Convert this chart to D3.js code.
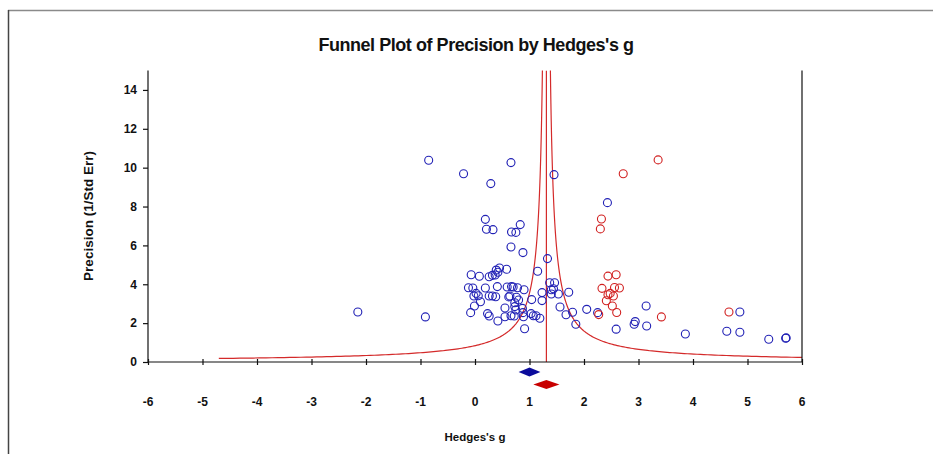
<!DOCTYPE html>
<html>
<head>
<meta charset="utf-8">
<script src="https://cdn.jsdelivr.net/npm/d3@7"></script>
<style>
  body { margin: 0; background: #fff; }
  text { font-family: "Liberation Sans", Arial, sans-serif; font-weight: bold; fill: #111; }
</style>
</head>
<body>
<div class="chart"></div>
<script>
// Observed studies [Hedges's g, precision]
var observedStudies = [
  [-2.15,2.57],[-0.91,2.32],[-0.85,10.38],[-0.21,9.69],[0.29,9.18],[0.66,10.26],[1.45,9.64],[2.43,8.2],
  [0.19,7.34],[0.21,6.83],[0.33,6.81],[0.83,7.07],[0.67,6.69],[0.75,6.67],[0.66,5.92],[0.88,5.63],[1.33,5.32],[1.15,4.67],
  [-0.07,4.49],[0.08,4.41],[0.26,4.39],[0.32,4.46],[0.37,4.48],[0.39,4.73],[0.45,4.84],[0.58,4.77],[0.42,4.62],
  [-0.12,3.82],[-0.04,3.81],[0.02,3.53],[-0.02,3.40],[0.10,3.10],[-0.01,2.88],[0.19,3.81],[0.26,3.40],[0.32,3.40],
  [0.41,3.88],[0.59,3.86],[0.67,3.88],[0.78,3.82],[0.90,3.72],[0.64,3.40],[0.76,3.33],[0.80,3.19],[0.73,3.05],
  [0.73,2.85],[0.87,2.76],[0.55,2.78],[1.04,3.21],[1.23,3.57],[1.23,3.16],
  [-0.08,2.54],[0.23,2.49],[0.26,2.37],[0.42,2.11],[0.55,2.33],[0.66,2.38],[0.72,2.37],[0.88,2.54],[0.89,2.33],
  [1.03,2.49],[1.12,2.38],[1.19,2.25],[0.91,1.71],
  [1.37,4.08],[1.46,4.08],[1.40,3.72],[1.44,3.77],[1.53,3.50],[1.40,3.50],[1.72,3.59],[1.56,2.83],[1.67,2.43],
  [1.79,2.56],[1.85,1.94],[0.62,3.35],[1.07,2.38],[0.38,3.36],[0.06,3.41],[0.75,2.68],[0.70,3.86],
  [2.05,2.71],[2.25,2.54],[2.59,1.69],[3.14,2.88],[2.94,2.08],[2.92,1.94],[3.15,1.85],[3.86,1.44],[4.62,1.58],
  [4.86,2.57],[4.86,1.53],[5.39,1.17],[5.70,1.22],[5.71,1.24]
];

// Imputed studies (trim and fill)
var imputedStudies = [
  [3.36,10.4],[2.72,9.69],[2.32,7.36],[2.30,6.85],[2.44,4.42],[2.59,4.49],[2.33,3.79],[2.56,3.83],[2.65,3.81],
  [2.48,3.53],[2.54,3.40],[2.44,3.46],[2.41,3.15],[2.52,2.88],[2.60,2.55],[2.27,2.44],[3.42,2.32],[4.66,2.57]
];

// Combined effects: [point estimate, half width]
var observedEffect = [1.00, 0.20];
var adjustedEffect = [1.31, 0.24];

// Funnel settings
var funnelCenter = 1.31;
var funnelWidth = 1.1;
var funnelMinPrecision = 0.183;

var xTicks = [-6, -5, -4, -3, -2, -1, 0, 1, 2, 3, 4, 5, 6];
var yTicks = [0, 2, 4, 6, 8, 10, 12, 14];

var width = 933;
var height = 454;

var svg = d3.select(".chart")
  .append("svg")
  .attr("width", width)
  .attr("height", height);

// Outer panel frame
svg.append("line")
  .attr("x1", 8).attr("x2", width).attr("y1", 10.5).attr("y2", 10.5)
  .style("stroke", "#8a8a8a").style("stroke-width", 1.5);
svg.append("line")
  .attr("x1", 8.5).attr("x2", 8.5).attr("y1", 10).attr("y2", height)
  .style("stroke", "#444").style("stroke-width", 1.5);

// Scales
var x = d3.scaleLinear().domain([-6, 6]).range([148, 802]);
var y = d3.scaleLinear().domain([0, 15]).range([362, 70.5]);

// Title
svg.append("text")
  .attr("x", 476)
  .attr("y", 51)
  .attr("text-anchor", "middle")
  .style("font-size", "18px")
  .style("letter-spacing", "-0.45px")
  .text("Funnel Plot of Precision by Hedges's g");

// Clip for funnel lines
svg.append("clipPath")
  .attr("id", "plotClip")
  .append("rect")
  .attr("x", x(-6)).attr("y", y(15))
  .attr("width", x(6) - x(-6)).attr("height", y(0) - y(15));

var plot = svg.append("g").attr("clip-path", "url(#plotClip)");

// Funnel curves
var precisions = d3.range(0, 201).map(function(i) {
    return funnelMinPrecision * Math.pow(15.5 / funnelMinPrecision, i / 200);
});

var line = d3.line()
  .x(function(d) { return x(d[0]); })
  .y(function(d) { return y(d[1]); });

[-1, 1].forEach(function(side) {
    plot.append("path")
      .datum(precisions.map(function(p) { return [funnelCenter + side * funnelWidth / p, p]; }))
      .attr("d", line)
      .style("fill", "none")
      .style("stroke", "#d42a2a")
      .style("stroke-width", 1.2);
});

plot.append("line")
  .attr("x1", x(funnelCenter)).attr("x2", x(funnelCenter))
  .attr("y1", y(15)).attr("y2", y(0))
  .style("stroke", "#d42a2a")
  .style("stroke-width", 1.2);

// Axes
var yAxis = d3.axisLeft(y).tickValues(yTicks).tickSize(5).tickPadding(6);
var gy = svg.append("g")
  .attr("transform", "translate(" + x(-6) + ",0)")
  .call(yAxis);
gy.select(".domain").attr("d", "M0," + y(15) + "V" + y(0));
gy.selectAll("text").style("font-size", "12px");

var gx = svg.append("g")
  .attr("transform", "translate(0," + y(0) + ")")
  .call(d3.axisBottom(x).tickValues(xTicks).tickSize(0).tickFormat(""));
gx.select(".domain").attr("d", "M" + x(-6) + ",0H" + x(6));
gx.selectAll(".tick line").attr("y1", -3).attr("y2", 3);

svg.selectAll(".domain, .tick line").style("stroke", "#111").style("stroke-width", 1.2);

// Right frame line
svg.append("line")
  .attr("x1", x(6)).attr("x2", x(6))
  .attr("y1", y(15)).attr("y2", y(0))
  .style("stroke", "#111").style("stroke-width", 1.2);

// x tick labels below the diamonds
svg.append("g").selectAll("text")
  .data(xTicks)
  .enter()
  .append("text")
  .attr("x", function(d) { return x(d); })
  .attr("y", 406)
  .attr("text-anchor", "middle")
  .style("font-size", "12px")
  .text(function(d) { return d; });

// Axis titles
svg.append("text")
  .attr("x", x(0))
  .attr("y", 441)
  .attr("text-anchor", "middle")
  .style("font-size", "11.5px")
  .text("Hedges's g");

svg.append("text")
  .attr("transform", "translate(93," + 216 + ") rotate(-90)")
  .attr("text-anchor", "middle")
  .style("font-size", "13.5px")
  .text("Precision (1/Std Err)");

// Study points
function drawStudies(data, color) {
    svg.append("g").selectAll("circle")
      .data(data)
      .enter()
      .append("circle")
      .attr("cx", function(d) { return x(d[0]); })
      .attr("cy", function(d) { return y(d[1]); })
      .attr("r", 4)
      .style("fill", "none")
      .style("stroke", color)
      .style("stroke-width", 1.1);
}
drawStudies(observedStudies, "#2121b5");
drawStudies(imputedStudies, "#d12020");

// Combined effect diamonds
function drawDiamond(effect, cy, halfHeight, color) {
    var pts = [
      [x(effect[0] - effect[1]), cy],
      [x(effect[0]), cy - halfHeight],
      [x(effect[0] + effect[1]), cy],
      [x(effect[0]), cy + halfHeight]
    ];
    svg.append("polygon")
      .attr("points", pts.map(function(p) { return p.join(","); }).join(" "))
      .style("fill", color);
}
drawDiamond(observedEffect, 372, 4.5, "#0b0b9c");
drawDiamond(adjustedEffect, 384.5, 4.5, "#c80000");
</script>
</body>
</html>
